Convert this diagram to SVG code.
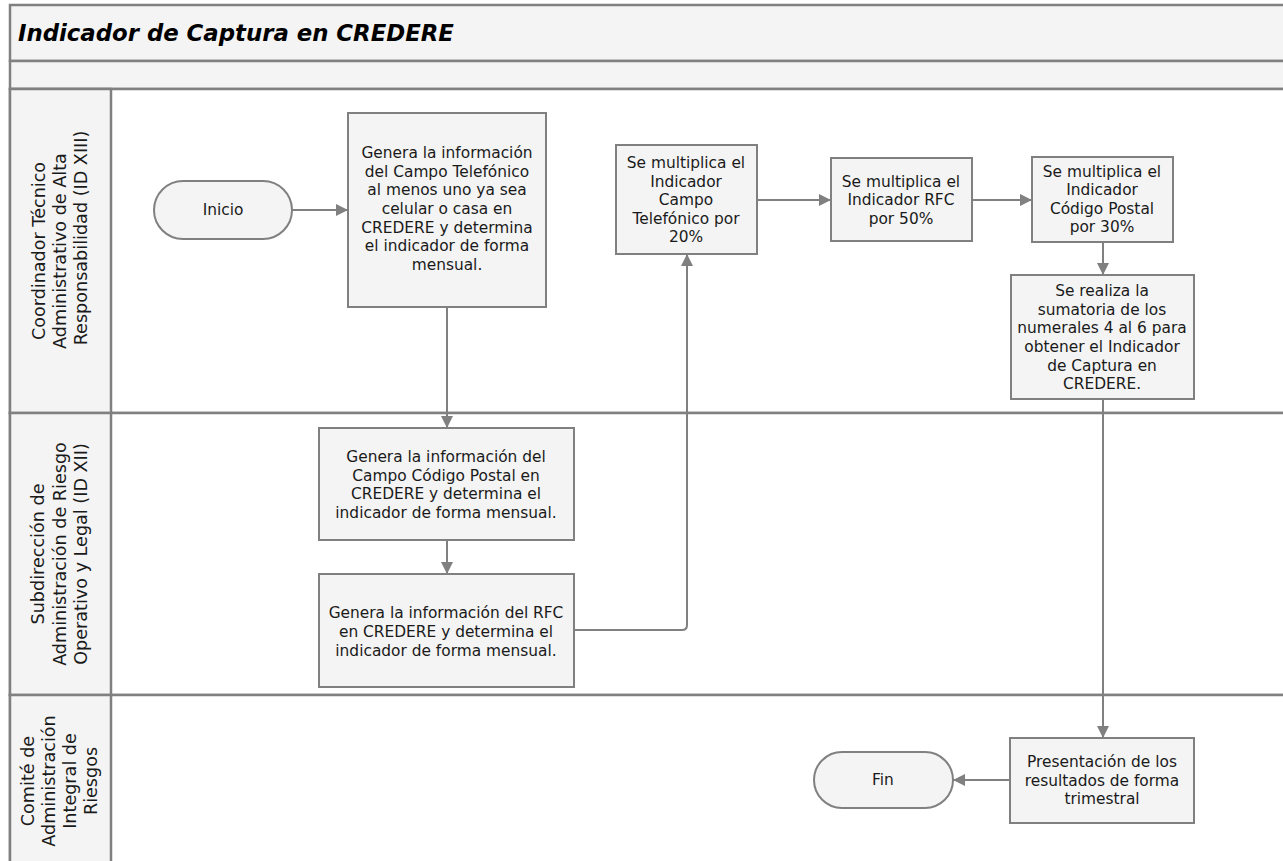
<svg xmlns="http://www.w3.org/2000/svg" width="1283" height="861" viewBox="0 0 1283 861">
<style>
.lane{fill:#f4f4f4;stroke:#808080;stroke-width:2.5}
.body{fill:#ffffff;stroke:#808080;stroke-width:2.5}
.box{fill:#f4f4f4;stroke:#808080;stroke-width:2}
.conn{fill:none;stroke:#808080;stroke-width:2}
.t{font-family:"DejaVu Sans",sans-serif;font-size:15.4px;fill:#1a1a1a;text-anchor:middle}
.h{font-family:"DejaVu Sans",sans-serif;font-size:17.6px;fill:#1a1a1a;text-anchor:middle}
.title{font-family:"DejaVu Sans",sans-serif;font-size:22.8px;font-weight:bold;font-style:italic;fill:#000}
</style>
<defs>
<marker id="arr" viewBox="0 0 10 10" refX="10" refY="5" markerWidth="6" markerHeight="6" orient="auto" markerUnits="strokeWidth">
<path d="M0,0 L10,5 L0,10 z" fill="#808080"/>
</marker>
</defs>
<rect width="1283" height="861" fill="#ffffff"/>
<g id="pool">
<rect class="lane" x="10" y="5" width="1285" height="56"/>
<text class="title" x="18" y="41">Indicador de Captura en CREDERE</text>
<rect class="lane" x="10" y="61" width="1285" height="28"/>
<rect class="body" x="10" y="89" width="1285" height="324"/>
<rect class="body" x="10" y="413" width="1285" height="282"/>
<rect class="body" x="10" y="695" width="1285" height="190"/>
<rect class="lane" x="10" y="89" width="101" height="324"/>
<rect class="lane" x="10" y="413" width="101" height="282"/>
<rect class="lane" x="10" y="695" width="101" height="190"/>
</g>
<g id="lane1-label">
<text class="h" transform="translate(0,251) rotate(-90)" x="0" y="45">Coordinador Técnico</text>
<text class="h" transform="translate(0,251) rotate(-90)" x="0" y="66">Administrativo de Alta</text>
<text class="h" transform="translate(0,238) rotate(-90)" x="0" y="87">Responsabilidad (ID XIII)</text>
</g>
<g id="lane2-label" transform="translate(0,554) rotate(-90)">
<text class="h" x="0" y="44">Subdirección de</text>
<text class="h" x="0" y="66">Administración de Riesgo</text>
<text class="h" x="0" y="87">Operativo y Legal (ID XII)</text>
</g>
<g id="lane3-label" transform="translate(0,781) rotate(-90)">
<text class="h" x="0" y="34">Comité de</text>
<text class="h" x="0" y="55">Administración</text>
<text class="h" x="0" y="76">Integral de</text>
<text class="h" x="0" y="97">Riesgos</text>
</g>
<g id="connectors">
<path class="conn" d="M292,210 L348,210" marker-end="url(#arr)"/>
<path class="conn" d="M447,307 L447,428" marker-end="url(#arr)"/>
<path class="conn" d="M447,540 L447,574" marker-end="url(#arr)"/>
<path class="conn" d="M574,630 L682,630 Q687,630 687,625 L687,254" marker-end="url(#arr)"/>
<path class="conn" d="M757,200 L831,200" marker-end="url(#arr)"/>
<path class="conn" d="M972,200 L1032,200" marker-end="url(#arr)"/>
<path class="conn" d="M1103,242 L1103,275" marker-end="url(#arr)"/>
<path class="conn" d="M1103,399 L1103,738" marker-end="url(#arr)"/>
<path class="conn" d="M1010,780 L953,780" marker-end="url(#arr)"/>
</g>
<g id="inicio">
<rect class="box" x="154" y="181" width="138" height="58" rx="29"/>
<text class="t" x="223" y="215">Inicio</text>
</g>
<g id="n1">
<rect class="box" x="348" y="113" width="198" height="194"/>
<text class="t" x="447" y="158">Genera la información</text>
<text class="t" x="447" y="177">del Campo Telefónico</text>
<text class="t" x="447" y="195">al menos uno ya sea</text>
<text class="t" x="447" y="214">celular o casa en</text>
<text class="t" x="447" y="233">CREDERE y determina</text>
<text class="t" x="447" y="251">el indicador de forma</text>
<text class="t" x="447" y="270">mensual.</text>
</g>
<g id="n2">
<rect class="box" x="616" y="145" width="141" height="109"/>
<text class="t" x="686" y="168">Se multiplica el</text>
<text class="t" x="686" y="187">Indicador</text>
<text class="t" x="686" y="205">Campo</text>
<text class="t" x="686" y="224">Telefónico por</text>
<text class="t" x="686" y="242">20%</text>
</g>
<g id="n3">
<rect class="box" x="831" y="158" width="141" height="83"/>
<text class="t" x="901" y="187">Se multiplica el</text>
<text class="t" x="901" y="205">Indicador RFC</text>
<text class="t" x="901" y="224">por 50%</text>
</g>
<g id="n4">
<rect class="box" x="1032" y="157" width="141" height="85"/>
<text class="t" x="1102" y="177">Se multiplica el</text>
<text class="t" x="1102" y="195">Indicador</text>
<text class="t" x="1102" y="214">Código Postal</text>
<text class="t" x="1102" y="232">por 30%</text>
</g>
<g id="n5">
<rect class="box" x="1011" y="275" width="183" height="124"/>
<text class="t" x="1102" y="296">Se realiza la</text>
<text class="t" x="1102" y="315">sumatoria de los</text>
<text class="t" x="1102" y="333">numerales 4 al 6 para</text>
<text class="t" x="1102" y="352">obtener el Indicador</text>
<text class="t" x="1102" y="371">de Captura en</text>
<text class="t" x="1102" y="389">CREDERE.</text>
</g>
<g id="n6">
<rect class="box" x="319" y="428" width="255" height="112"/>
<text class="t" x="446" y="462">Genera la información del</text>
<text class="t" x="446" y="481">Campo Código Postal en</text>
<text class="t" x="446" y="499">CREDERE y determina el</text>
<text class="t" x="446" y="518">indicador de forma mensual.</text>
</g>
<g id="n7">
<rect class="box" x="319" y="574" width="255" height="113"/>
<text class="t" x="446" y="618">Genera la información del RFC</text>
<text class="t" x="446" y="637">en CREDERE y determina el</text>
<text class="t" x="446" y="656">indicador de forma mensual.</text>
</g>
<g id="n8">
<rect class="box" x="1010" y="738" width="184" height="85"/>
<text class="t" x="1102" y="767">Presentación de los</text>
<text class="t" x="1102" y="786">resultados de forma</text>
<text class="t" x="1102" y="804">trimestral</text>
</g>
<g id="fin">
<rect class="box" x="814" y="752" width="139" height="56" rx="28"/>
<text class="t" x="883" y="785">Fin</text>
</g>
</svg>
